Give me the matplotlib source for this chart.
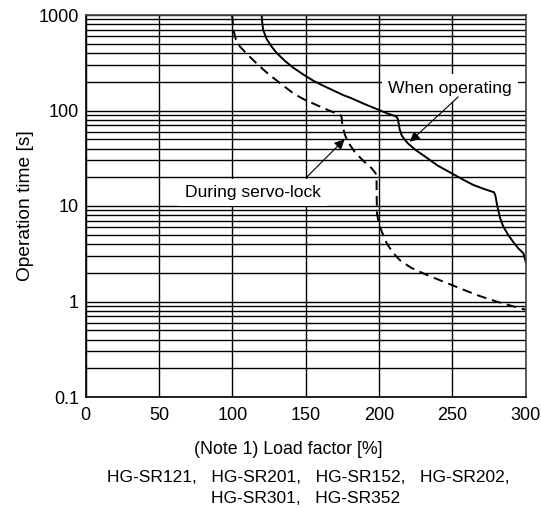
import matplotlib
matplotlib.use("Agg")
import matplotlib.pyplot as plt
from matplotlib.ticker import FixedLocator, NullFormatter, NullLocator

plt.rcParams['font.family'] = ['Liberation Sans', 'DejaVu Sans']

# Overload protection curves: load factor [%] vs operation time [s]
operating_load = [120, 120.3, 121, 123.4, 126.8, 130.2, 135.9, 141.6, 149.5,
                  155.2, 163.2, 175.6, 181.4, 190, 199.5, 205, 210.9, 212.3,
                  213.1, 214, 215.4, 217.5, 219.9, 225, 231.3, 240, 249.5,
                  257, 264.3, 272, 278.5, 279.5, 280.5, 282.5, 284.7, 288,
                  291.5, 295, 298.4, 300]
operating_time = [1000, 850, 700, 560, 466, 400, 330, 280, 232,
                  205, 178, 145, 134, 117, 102, 94, 87.5, 85,
                  78, 64, 55, 49.5, 45, 38.5, 33, 26.5, 22,
                  19, 16.6, 15, 13.9, 12.5, 10.2, 7.5, 6.1, 5.0,
                  4.2, 3.6, 3.2, 2.6]

servo_lock_load = [99.8, 100.2, 100.7, 102.3, 105.2, 110, 117.7, 124, 131.3,
                   141.6, 149.5, 159.8, 166, 173.4, 174.4, 175, 176.8, 180,
                   183.6, 190, 195, 197.7, 198.3, 198.4, 198.6, 200, 202.3,
                   205.5, 209.8, 214.3, 222, 232.5, 249.5, 266.6, 280, 296, 300]
servo_lock_time = [1000, 850, 697, 560, 466, 390, 299, 245, 200,
                   151, 129, 110, 100, 90, 86, 70.5, 55, 44,
                   36.5, 29, 24.8, 22, 19, 12, 8.4, 6.4, 5.2,
                   4.0, 3.2, 2.7, 2.25, 1.9, 1.49, 1.17, 1.0, 0.85, 0.82]

x_ticks = [0, 50, 100, 150, 200, 250, 300]
y_ticks = [0.1, 1, 10, 100, 1000]
y_tick_labels = ["0.1", "1", "10", "100", "1000"]
model_lines = ["HG-SR121,   HG-SR201,   HG-SR152,   HG-SR202,",
               "HG-SR301,   HG-SR352"]

W, H = 541, 508
fig = plt.figure(figsize=(W / 100, H / 100), dpi=100)
ax = fig.add_axes([85.7 / W, 1 - 397 / H, 440 / W, 382 / H])

ax.set_yscale('log')
ax.set_xlim(0, 300)
ax.set_ylim(0.1, 1000)

# grid: decades, 2..9 subdivisions, and every 50 % of load
ax.yaxis.set_major_locator(FixedLocator(y_ticks))
ax.set_yticklabels(y_tick_labels)
minor = [m * 10.0 ** e for e in range(-1, 3) for m in range(2, 10)]
ax.yaxis.set_minor_locator(FixedLocator(minor))
ax.yaxis.set_minor_formatter(NullFormatter())
ax.set_xticks(x_ticks)
ax.xaxis.set_minor_locator(NullLocator())
ax.grid(True, which='major', axis='both', color='black', linewidth=1.0)
ax.grid(True, which='minor', axis='y', color='black', linewidth=1.0)
ax.set_axisbelow(True)

ax.tick_params(axis='both', which='both', length=0, labelsize=13, pad=5)
ax.tick_params(axis='x', pad=7)
for s in ax.spines.values():
    s.set_color('#444444')
    s.set_linewidth(1.2)
ax.spines['left'].set_color('black')
ax.spines['bottom'].set_color('black')

ax.plot(operating_load, operating_time, color='black', linewidth=1.4,
        solid_joinstyle='round')
ax.plot(servo_lock_load, servo_lock_time, color='black', linewidth=1.4,
        linestyle=(0, (5, 3)))

box = dict(boxstyle='square,pad=0.35', facecolor='white', edgecolor='none')
arrow = dict(arrowstyle='-|>', color='black', lw=0.8, mutation_scale=15,
             shrinkA=0, shrinkB=0)
ax.text(248.3, 172, "When operating", ha='center', va='center',
        fontsize=12.6, bbox=box, zorder=3)
ax.annotate("", xy=(221, 47), xytext=(254, 139), arrowprops=arrow, zorder=4)
ax.text(114.3, 13.8, "During servo-lock", ha='center', va='center',
        fontsize=12.6, bbox=box, zorder=3)
ax.annotate("", xy=(176.5, 50), xytext=(151, 20.3), arrowprops=arrow, zorder=4)

ax.set_ylabel("Operation time [s]", fontsize=13.8, labelpad=3)
ax.set_xlabel("(Note 1) Load factor [%]", fontsize=12.8, labelpad=12)
ax.xaxis.set_label_coords((288 - 85.7) / 440, -0.115)

fig.text(308 / W, 1 - 477.7 / H, model_lines[0], ha='center', va='center',
         fontsize=12.5)
fig.text(305.7 / W, 1 - 498.3 / H, model_lines[1], ha='center', va='center',
         fontsize=12.5)

fig.savefig("out.png", dpi=100)
